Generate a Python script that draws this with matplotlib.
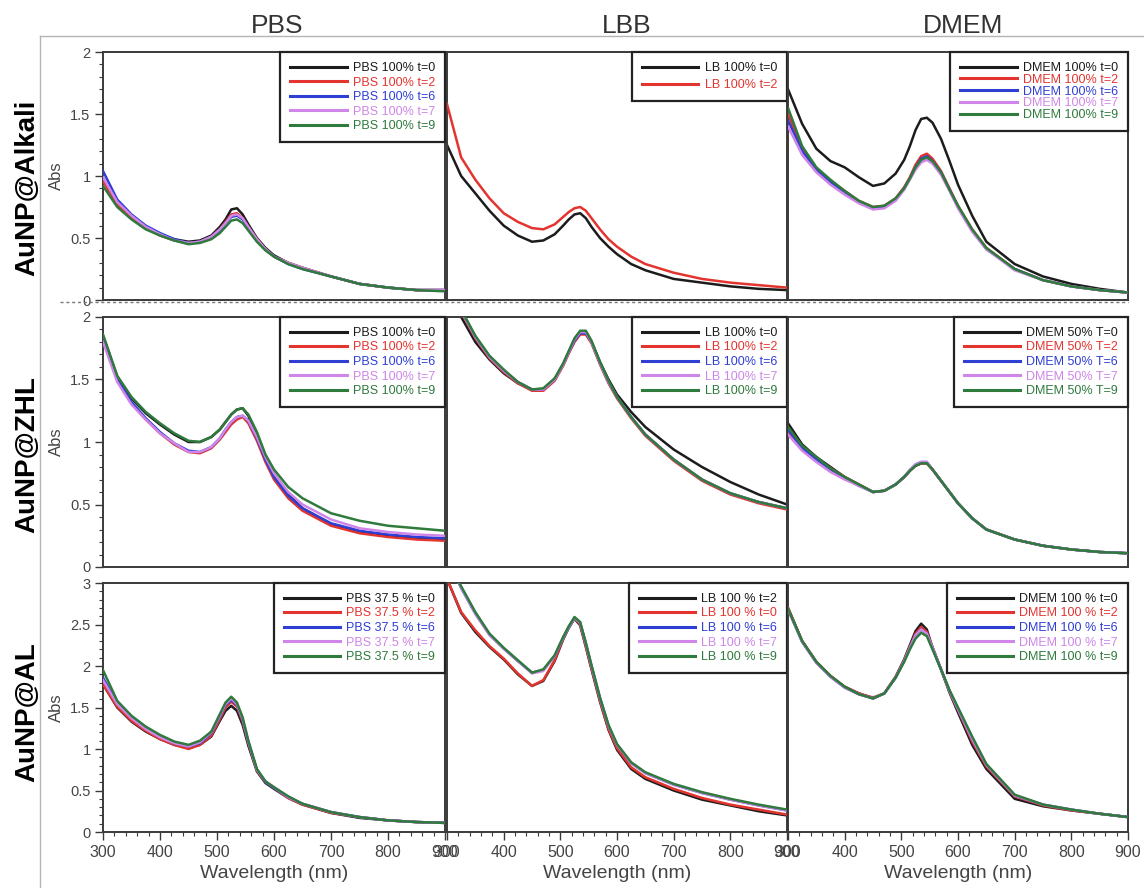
import matplotlib
matplotlib.use("Agg")
import matplotlib.pyplot as plt
from matplotlib.ticker import MultipleLocator
from matplotlib.lines import Line2D

plt.rcParams["font.family"] = ["Liberation Sans", "DejaVu Sans"]

# Sampling wavelengths (nm) shared by every spectrum
wavelength = [300, 325, 350, 375, 400, 425, 450, 470, 490, 505, 515, 525, 535,
              545, 555, 570, 585, 600, 625, 650, 700, 750, 800, 850, 900]

# ---- AuNP@Alkali -------------------------------------------------------
alk_pbs_t0 = [0.97, 0.77, 0.66, 0.58, 0.53, 0.49, 0.47, 0.48, 0.52, 0.59, 0.65, 0.73, 0.74, 0.69, 0.61, 0.50, 0.42, 0.36, 0.30, 0.26, 0.19, 0.13, 0.10, 0.08, 0.08]
alk_pbs_t2 = [0.96, 0.77, 0.66, 0.58, 0.52, 0.48, 0.46, 0.47, 0.51, 0.57, 0.63, 0.69, 0.70, 0.66, 0.59, 0.49, 0.41, 0.35, 0.30, 0.26, 0.19, 0.13, 0.10, 0.08, 0.08]
alk_pbs_t6 = [1.04, 0.81, 0.69, 0.60, 0.54, 0.49, 0.46, 0.47, 0.51, 0.56, 0.62, 0.67, 0.68, 0.65, 0.58, 0.48, 0.41, 0.35, 0.29, 0.25, 0.19, 0.13, 0.10, 0.08, 0.08]
alk_pbs_t7 = [0.99, 0.79, 0.68, 0.59, 0.53, 0.48, 0.46, 0.47, 0.51, 0.57, 0.62, 0.68, 0.69, 0.66, 0.59, 0.49, 0.41, 0.35, 0.30, 0.26, 0.19, 0.13, 0.10, 0.08, 0.08]
alk_pbs_t9 = [0.92, 0.75, 0.65, 0.57, 0.52, 0.48, 0.45, 0.46, 0.49, 0.54, 0.59, 0.64, 0.65, 0.62, 0.56, 0.47, 0.40, 0.35, 0.29, 0.25, 0.19, 0.13, 0.10, 0.08, 0.07]

alk_lb_t0 = [1.25, 1.00, 0.86, 0.72, 0.60, 0.52, 0.47, 0.48, 0.53, 0.60, 0.65, 0.69, 0.70, 0.66, 0.59, 0.50, 0.43, 0.37, 0.29, 0.24, 0.17, 0.14, 0.11, 0.09, 0.08]
alk_lb_t2 = [1.58, 1.15, 0.97, 0.82, 0.70, 0.63, 0.58, 0.57, 0.61, 0.67, 0.71, 0.74, 0.75, 0.72, 0.66, 0.57, 0.49, 0.43, 0.35, 0.29, 0.22, 0.17, 0.14, 0.12, 0.10]

alk_dmem_t0 = [1.70, 1.42, 1.22, 1.12, 1.07, 0.99, 0.92, 0.94, 1.02, 1.13, 1.24, 1.37, 1.46, 1.47, 1.43, 1.30, 1.12, 0.93, 0.68, 0.47, 0.29, 0.19, 0.13, 0.09, 0.06]
alk_dmem_t2 = [1.50, 1.22, 1.06, 0.96, 0.88, 0.80, 0.75, 0.76, 0.82, 0.91, 0.99, 1.09, 1.16, 1.18, 1.14, 1.04, 0.90, 0.76, 0.57, 0.42, 0.25, 0.16, 0.11, 0.08, 0.06]
alk_dmem_t6 = [1.45, 1.20, 1.05, 0.95, 0.87, 0.79, 0.74, 0.75, 0.81, 0.90, 0.98, 1.07, 1.14, 1.16, 1.12, 1.03, 0.89, 0.75, 0.56, 0.41, 0.25, 0.16, 0.11, 0.08, 0.06]
alk_dmem_t7 = [1.40, 1.17, 1.03, 0.93, 0.85, 0.78, 0.73, 0.74, 0.80, 0.89, 0.97, 1.05, 1.11, 1.13, 1.10, 1.01, 0.88, 0.74, 0.55, 0.41, 0.24, 0.16, 0.11, 0.08, 0.06]
alk_dmem_t9 = [1.55, 1.24, 1.07, 0.97, 0.88, 0.80, 0.75, 0.76, 0.82, 0.90, 0.98, 1.07, 1.13, 1.15, 1.12, 1.03, 0.89, 0.76, 0.57, 0.42, 0.25, 0.16, 0.11, 0.08, 0.06]

# ---- AuNP@ZHL ----------------------------------------------------------
zhl_pbs_t0 = [1.85, 1.52, 1.35, 1.23, 1.14, 1.06, 1.00, 1.00, 1.04, 1.10, 1.16, 1.22, 1.26, 1.27, 1.21, 1.05, 0.87, 0.74, 0.58, 0.47, 0.34, 0.28, 0.25, 0.23, 0.22]
zhl_pbs_t2 = [1.83, 1.50, 1.31, 1.18, 1.07, 0.98, 0.92, 0.91, 0.95, 1.02, 1.08, 1.14, 1.18, 1.20, 1.15, 1.01, 0.84, 0.70, 0.55, 0.45, 0.33, 0.27, 0.24, 0.22, 0.21]
zhl_pbs_t6 = [1.82, 1.50, 1.32, 1.19, 1.08, 0.99, 0.93, 0.92, 0.96, 1.03, 1.10, 1.16, 1.20, 1.21, 1.17, 1.03, 0.86, 0.72, 0.57, 0.47, 0.35, 0.29, 0.26, 0.24, 0.23]
zhl_pbs_t7 = [1.80, 1.48, 1.30, 1.18, 1.07, 0.99, 0.92, 0.92, 0.96, 1.03, 1.10, 1.16, 1.20, 1.21, 1.17, 1.04, 0.88, 0.75, 0.60, 0.50, 0.38, 0.31, 0.28, 0.26, 0.25]
zhl_pbs_t9 = [1.86, 1.53, 1.36, 1.24, 1.15, 1.07, 1.01, 1.00, 1.04, 1.10, 1.16, 1.22, 1.26, 1.27, 1.22, 1.08, 0.90, 0.78, 0.64, 0.55, 0.43, 0.37, 0.33, 0.31, 0.29]

zhl_lb_t0 = [2.30, 2.00, 1.80, 1.66, 1.55, 1.47, 1.42, 1.42, 1.50, 1.62, 1.72, 1.81, 1.87, 1.87, 1.80, 1.64, 1.50, 1.38, 1.24, 1.12, 0.94, 0.80, 0.68, 0.58, 0.50]
zhl_lb_t2 = [2.35, 2.04, 1.83, 1.67, 1.56, 1.47, 1.41, 1.41, 1.49, 1.61, 1.71, 1.80, 1.86, 1.86, 1.79, 1.62, 1.47, 1.35, 1.19, 1.05, 0.85, 0.69, 0.58, 0.51, 0.46]
zhl_lb_t6 = [2.35, 2.05, 1.84, 1.68, 1.57, 1.48, 1.42, 1.42, 1.50, 1.62, 1.72, 1.81, 1.87, 1.87, 1.80, 1.63, 1.48, 1.36, 1.20, 1.06, 0.86, 0.70, 0.59, 0.52, 0.47]
zhl_lb_t7 = [2.35, 2.05, 1.84, 1.68, 1.57, 1.48, 1.42, 1.42, 1.50, 1.62, 1.72, 1.82, 1.88, 1.88, 1.80, 1.63, 1.48, 1.36, 1.20, 1.06, 0.86, 0.70, 0.59, 0.52, 0.47]
zhl_lb_t9 = [2.36, 2.06, 1.85, 1.69, 1.58, 1.48, 1.42, 1.43, 1.51, 1.63, 1.73, 1.83, 1.89, 1.89, 1.81, 1.64, 1.49, 1.36, 1.20, 1.06, 0.86, 0.70, 0.59, 0.52, 0.47]

zhl_dmem_t0 = [1.15, 0.98, 0.88, 0.80, 0.72, 0.66, 0.60, 0.61, 0.66, 0.72, 0.77, 0.81, 0.83, 0.83, 0.78, 0.69, 0.60, 0.51, 0.39, 0.30, 0.22, 0.17, 0.14, 0.12, 0.11]
zhl_dmem_t2 = [1.08, 0.96, 0.87, 0.79, 0.72, 0.66, 0.60, 0.61, 0.66, 0.72, 0.77, 0.81, 0.83, 0.83, 0.78, 0.69, 0.60, 0.51, 0.39, 0.30, 0.22, 0.17, 0.14, 0.12, 0.11]
zhl_dmem_t6 = [1.10, 0.95, 0.86, 0.78, 0.71, 0.65, 0.60, 0.61, 0.66, 0.72, 0.77, 0.82, 0.84, 0.84, 0.78, 0.69, 0.60, 0.51, 0.39, 0.30, 0.22, 0.17, 0.14, 0.12, 0.11]
zhl_dmem_t7 = [1.06, 0.93, 0.84, 0.76, 0.70, 0.65, 0.60, 0.61, 0.66, 0.72, 0.78, 0.82, 0.84, 0.84, 0.78, 0.69, 0.60, 0.51, 0.39, 0.30, 0.22, 0.17, 0.14, 0.12, 0.11]
zhl_dmem_t9 = [1.12, 0.97, 0.88, 0.79, 0.72, 0.66, 0.60, 0.61, 0.66, 0.72, 0.77, 0.81, 0.83, 0.83, 0.78, 0.69, 0.60, 0.51, 0.39, 0.30, 0.22, 0.17, 0.14, 0.12, 0.11]

# ---- AuNP@AL -----------------------------------------------------------
al_pbs_t0 = [1.78, 1.50, 1.33, 1.21, 1.12, 1.05, 1.01, 1.05, 1.15, 1.34, 1.46, 1.52, 1.46, 1.29, 1.04, 0.73, 0.59, 0.52, 0.41, 0.33, 0.23, 0.17, 0.14, 0.12, 0.11]
al_pbs_t2 = [1.78, 1.51, 1.34, 1.22, 1.12, 1.05, 1.00, 1.05, 1.16, 1.36, 1.50, 1.57, 1.51, 1.33, 1.07, 0.74, 0.60, 0.53, 0.41, 0.33, 0.23, 0.18, 0.14, 0.12, 0.11]
al_pbs_t6 = [1.86, 1.55, 1.38, 1.25, 1.15, 1.07, 1.03, 1.07, 1.19, 1.39, 1.53, 1.59, 1.53, 1.35, 1.08, 0.75, 0.60, 0.53, 0.42, 0.34, 0.24, 0.18, 0.14, 0.12, 0.11]
al_pbs_t7 = [1.83, 1.54, 1.37, 1.24, 1.14, 1.07, 1.03, 1.08, 1.20, 1.40, 1.54, 1.61, 1.54, 1.36, 1.09, 0.75, 0.61, 0.54, 0.42, 0.34, 0.24, 0.18, 0.14, 0.12, 0.11]
al_pbs_t9 = [1.95, 1.58, 1.40, 1.27, 1.17, 1.09, 1.05, 1.10, 1.21, 1.42, 1.56, 1.63, 1.56, 1.38, 1.10, 0.76, 0.61, 0.54, 0.43, 0.34, 0.24, 0.18, 0.14, 0.12, 0.11]

al_lb_t2 = [3.05, 2.64, 2.41, 2.23, 2.08, 1.90, 1.76, 1.82, 2.06, 2.32, 2.46, 2.57, 2.49, 2.23, 1.96, 1.57, 1.23, 0.99, 0.76, 0.64, 0.50, 0.39, 0.32, 0.25, 0.20]
al_lb_t0 = [3.05, 2.65, 2.43, 2.24, 2.09, 1.91, 1.76, 1.83, 2.07, 2.33, 2.47, 2.58, 2.50, 2.24, 1.97, 1.58, 1.24, 1.01, 0.78, 0.66, 0.52, 0.41, 0.33, 0.27, 0.21]
al_lb_t6 = [3.30, 2.94, 2.63, 2.38, 2.21, 2.06, 1.92, 1.95, 2.12, 2.34, 2.47, 2.58, 2.52, 2.27, 2.00, 1.61, 1.28, 1.05, 0.83, 0.71, 0.57, 0.47, 0.39, 0.32, 0.26]
al_lb_t7 = [3.30, 2.94, 2.63, 2.37, 2.21, 2.06, 1.91, 1.94, 2.12, 2.34, 2.47, 2.58, 2.52, 2.27, 2.00, 1.61, 1.28, 1.05, 0.83, 0.71, 0.57, 0.47, 0.39, 0.32, 0.26]
al_lb_t9 = [3.32, 2.96, 2.65, 2.39, 2.22, 2.07, 1.92, 1.96, 2.13, 2.35, 2.48, 2.59, 2.53, 2.28, 2.01, 1.62, 1.29, 1.06, 0.84, 0.72, 0.58, 0.48, 0.40, 0.33, 0.27]

al_dmem_t0 = [2.70, 2.30, 2.05, 1.88, 1.75, 1.67, 1.61, 1.67, 1.87, 2.08, 2.25, 2.42, 2.51, 2.44, 2.22, 1.96, 1.68, 1.44, 1.05, 0.76, 0.40, 0.31, 0.26, 0.22, 0.18]
al_dmem_t2 = [2.70, 2.30, 2.05, 1.88, 1.75, 1.67, 1.62, 1.67, 1.87, 2.07, 2.23, 2.39, 2.47, 2.41, 2.23, 1.96, 1.69, 1.47, 1.09, 0.79, 0.43, 0.32, 0.26, 0.22, 0.18]
al_dmem_t6 = [2.68, 2.29, 2.04, 1.87, 1.74, 1.66, 1.61, 1.67, 1.86, 2.06, 2.22, 2.37, 2.44, 2.39, 2.22, 1.96, 1.70, 1.48, 1.12, 0.81, 0.44, 0.33, 0.27, 0.22, 0.18]
al_dmem_t7 = [2.68, 2.29, 2.04, 1.87, 1.74, 1.66, 1.61, 1.67, 1.86, 2.06, 2.22, 2.37, 2.44, 2.39, 2.22, 1.96, 1.70, 1.48, 1.12, 0.81, 0.44, 0.33, 0.27, 0.22, 0.18]
al_dmem_t9 = [2.69, 2.30, 2.05, 1.88, 1.75, 1.66, 1.61, 1.67, 1.86, 2.05, 2.20, 2.33, 2.40, 2.36, 2.20, 1.96, 1.71, 1.50, 1.15, 0.82, 0.45, 0.33, 0.27, 0.22, 0.18]

# Legend texts
times = ["t=0", "t=2", "t=6", "t=7", "t=9"]
alk_pbs_labels = [f"PBS 100% {t}" for t in times]
alk_lb_labels = ["LB 100% t=0", "LB 100% t=2"]
alk_dmem_labels = [f"DMEM 100% {t}" for t in times]
zhl_pbs_labels = [f"PBS 100% {t}" for t in times]
zhl_lb_labels = [f"LB 100% {t}" for t in times]
zhl_dmem_labels = ["DMEM 50% T=0", "DMEM 50% T=2", "DMEM 50% T=6", "DMEM 50% T=7", "DMEM 50% T=9"]
al_pbs_labels = [f"PBS 37.5 % {t}" for t in times]
al_lb_labels = ["LB 100 % t=2", "LB 100 % t=0", "LB 100 % t=6", "LB 100 % t=7", "LB 100 % t=9"]
al_dmem_labels = [f"DMEM 100 % {t}" for t in times]

col_titles = ["PBS", "LBB", "DMEM"]
row_titles = ["AuNP@Alkali", "AuNP@ZHL", "AuNP@AL"]
row_ymax = [2, 2, 3]

series_colors = ["#1c1c1c", "#e3342f", "#2f3fd4", "#cf86e8", "#2f7a3d"]

# (spectra, legend labels, legend row spacing) for every panel
grid = [
    [([alk_pbs_t0, alk_pbs_t2, alk_pbs_t6, alk_pbs_t7, alk_pbs_t9], alk_pbs_labels, 0.2),
     ([alk_lb_t0, alk_lb_t2], alk_lb_labels, 0.43),
     ([alk_dmem_t0, alk_dmem_t2, alk_dmem_t6, alk_dmem_t7, alk_dmem_t9], alk_dmem_labels, -0.02)],
    [([zhl_pbs_t0, zhl_pbs_t2, zhl_pbs_t6, zhl_pbs_t7, zhl_pbs_t9], zhl_pbs_labels, 0.2),
     ([zhl_lb_t0, zhl_lb_t2, zhl_lb_t6, zhl_lb_t7, zhl_lb_t9], zhl_lb_labels, 0.2),
     ([zhl_dmem_t0, zhl_dmem_t2, zhl_dmem_t6, zhl_dmem_t7, zhl_dmem_t9], zhl_dmem_labels, 0.2)],
    [([al_pbs_t0, al_pbs_t2, al_pbs_t6, al_pbs_t7, al_pbs_t9], al_pbs_labels, 0.2),
     ([al_lb_t2, al_lb_t0, al_lb_t6, al_lb_t7, al_lb_t9], al_lb_labels, 0.2),
     ([al_dmem_t0, al_dmem_t2, al_dmem_t6, al_dmem_t7, al_dmem_t9], al_dmem_labels, 0.2)],
]

# Figure layout in pixels
W, H = 1144, 888
fig = plt.figure(figsize=(W / 100, H / 100), dpi=100)
col_px = [(103, 445), (447, 787), (788, 1128)]
row_px = [(52, 300), (317, 567), (583, 832)]

spine_col = "#3a3a3a"
text_col = "#444444"

for r in range(3):
    y0, y1 = row_px[r]
    for c in range(3):
        x0, x1 = col_px[c]
        ax = fig.add_axes([x0 / W, 1 - y1 / H, (x1 - x0) / W, (y1 - y0) / H])
        series, labels, lspace = grid[r][c]
        for i, vals in enumerate(series):
            ax.plot(wavelength, vals, color=series_colors[i], lw=1.8,
                    solid_joinstyle="round", label=labels[i], zorder=2 + i)
        ax.set_xlim(300, 900)
        ax.set_ylim(0, row_ymax[r])
        for s in ax.spines.values():
            s.set_linewidth(1.4)
            s.set_color(spine_col)

        ax.xaxis.set_major_locator(MultipleLocator(100))
        ax.xaxis.set_minor_locator(MultipleLocator(20))
        ax.yaxis.set_major_locator(MultipleLocator(0.5))
        ax.yaxis.set_minor_locator(MultipleLocator(0.1))
        ax.yaxis.set_major_formatter(plt.FuncFormatter(lambda v, p: f"{v:g}"))
        ax.tick_params(which="both", direction="out", colors=spine_col,
                       labelcolor=text_col, labelsize=10.5)
        ax.tick_params(which="major", length=6, width=1.0, pad=3)
        ax.tick_params(which="minor", length=3, width=0.8)
        if c != 0:
            ax.tick_params(axis="y", which="both", left=False, labelleft=False)
        else:
            ax.set_ylabel("Abs", fontsize=12, color=text_col)
            ax.yaxis.set_label_coords(-47 / (x1 - x0), 0.5)
            ax.yaxis.label.set_va("center")
        if r != 2:
            ax.tick_params(axis="x", which="both", bottom=False, labelbottom=False)
        else:
            ax.tick_params(axis="x", labelsize=11.5)
            ax.set_xlabel("Wavelength (nm)", fontsize=14, color=text_col)
            ax.xaxis.set_label_coords(0.5, -(873 - 832) / (y1 - y0))
            ax.xaxis.label.set_va("center")

        leg = ax.legend(loc="upper right", bbox_to_anchor=(1, 1), borderaxespad=0,
                        fontsize=9, handlelength=4.5, handletextpad=0.5,
                        borderpad=0.8, labelspacing=lspace, frameon=True,
                        fancybox=False, framealpha=1, edgecolor="#222222")
        leg.get_frame().set_linewidth(1.6)
        for txt, col in zip(leg.get_texts(), series_colors):
            txt.set_color(col)
        for ln in leg.get_lines():
            ln.set_linewidth(2.2)

# Column headers and row titles
col_x = [277, 627, 963]
for name, x in zip(col_titles, col_x):
    fig.text(x / W, 1 - 26 / H, name, fontsize=19, color="#333333",
             ha="center", va="center")
row_y = [188, 455, 712]
for name, y in zip(row_titles, row_y):
    fig.text(27 / W, 1 - y / H, name, fontsize=20, fontweight="bold",
             rotation=90, ha="center", va="center")

# Frame lines around the header and row-title strips
fig.add_artist(Line2D([40 / W, 1], [1 - 36 / H, 1 - 36 / H], color="#b5b5b5", lw=1))
fig.add_artist(Line2D([40 / W, 40 / W], [1 - 36 / H, 0], color="#b5b5b5", lw=1))
# Tick strip below the top row
fig.add_artist(Line2D([60 / W, 1128 / W], [1 - 302 / H, 1 - 302 / H], color="#777777",
                      lw=1.0, ls=(0, (2.2, 2.0))))

fig.savefig("out.png", dpi=100)
